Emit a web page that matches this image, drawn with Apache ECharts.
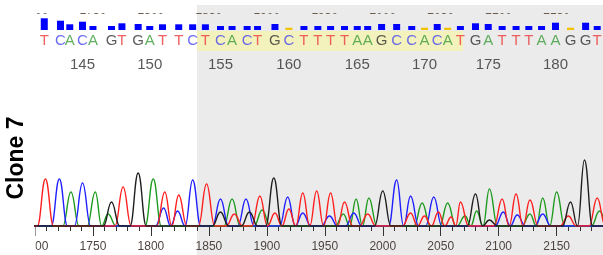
<!DOCTYPE html>
<html><head><meta charset="utf-8">
<script src="https://cdn.jsdelivr.net/npm/echarts@6/dist/echarts.min.js"></script>
<style>html,body{margin:0;padding:0;background:#fff;}#c{width:603px;height:255px;}</style>
</head><body><div id="c"></div>
<script>
// ---- data ----
const firstBase = 142;
const baseLetters = ['T','C','A','C','A','G','T','G','A','T','T','C','T','C','A','C','T','G','C','T','T','T','T','A','A','G','C','C','A','C','A','T','G','A','T','T','T','A','A','G','G','T'];
const basePos = [1708,1722,1730,1741,1750,1766,1775,1789,1799,1810,1824,1836,1847,1860,1870,1883,1892,1907,1919,1932,1944,1955,1967,1978,1987,1999,2012,2025,2036,2047,2056,2067,2080,2091,2103,2115,2126,2137,2149,2162,2175,2185];
const baseQuality = [11.7,9.3,5.7,8.3,4,4,6.7,6,4,5.7,5.7,5.7,5.7,4,4,4,4,6,2.3,4,4,4,4,4,4,6,6,4,2.3,6,2.3,4,6.7,6,4,4,4,4,7.3,2.3,7.3,4];
const baseTicks = [145,150,155,160,165,170,175,180];
const traceTicks = [1700,1750,1800,1850,1900,1950,2000,2050,2100,2150];

// trace peaks: [trace position, signal height]
const redPeaks = [[1709,47],[1776,39],[1812,34],[1824,31],[1848,42],[1872,12],[1894,30],[1907,13],[1919,17],[1931,33],[1943,35],[1955,33],[1967,24],[1987,12],[2024,13],[2036,10],[2048,14],[2059,9],[2067,24],[2103,27],[2115,32],[2127,26],[2160,10],[2185,28]];
const bluePeaks = [[1721,47],[1741,43],[1811,18],[1823,15],[1836,46],[1860,27],[1882,27],[1918,29],[1931,13],[1954,10],[1975,13],[2012,46],[2024,30],[2044,29],[2104,14],[2116,11],[2138,12]];
const greenPeaks = [[1731,34],[1752,34],[1763,12],[1802,47],[1870,27],[1896,16],[1966,12],[1977,27],[1988,28],[2034,23],[2056,23],[2071,10],[2081,15],[2092,37],[2127,12],[2138,28],[2150,34],[2187,15]];
const blackPeaks = [[1766,24],[1789,53],[1860,14],[1885,14],[1906,48],[2000,35],[2080,32],[2092,6],[2162,24],[2174,66]];

const letterColor = {T:'#ee3a3a', C:'#4646ee', A:'#3a9c3a', G:'#333333'};
const traceColor = {red:'#ff1e1e', blue:'#1e1eff', green:'#1e9a1e', black:'#1e1e1e'};

function peaksToLine(peaks, hw){
  const pts = [[1690,0]];
  for (let i=0;i<peaks.length;i++){
    const p = peaks[i][0], h = peaks[i][1];
    let l = p - hw, r = p + hw;
    if (i>0 && p - peaks[i-1][0] < 2*hw) l = (p + peaks[i-1][0])/2;
    if (i<peaks.length-1 && peaks[i+1][0] - p < 2*hw) r = (p + peaks[i+1][0])/2;
    if (pts[pts.length-1][0] < l) pts.push([l,0]);
    pts.push([p,h]);
    pts.push([r,0]);
  }
  pts.push([2200,0]);
  return pts;
}
function traceSeries(name, peaks){
  return {type:'line', xAxisIndex:1, yAxisIndex:1, data:peaksToLine(peaks,7), smooth:0.45, smoothMonotone:'x',
    symbol:'none', lineStyle:{color:traceColor[name], width:1.4}, clip:true, z:3};
}
const plainLabel = v => String(v);

const chart = echarts.init(document.getElementById('c'), null, {renderer:'canvas'});
const FONT = 'Liberation Sans';
chart.setOption({
  animation:false,
  grid:[
    {left:35, right:0, top:0, height:75},
    {left:35, right:0, top:146, height:80}
  ],
  xAxis:[
    {gridIndex:0, type:'value', min:1700, max:2190, interval:50, position:'top',
     axisLine:{show:false}, axisTick:{show:false}, splitLine:{show:false},
     axisLabel:{margin:-17, color:'#6a5a4a', fontSize:12, fontFamily:FONT, formatter:plainLabel, showMaxLabel:false}},
    {gridIndex:1, type:'value', min:1700, max:2190, interval:50,
     axisLine:{lineStyle:{color:'#444', width:1}},
     axisTick:{length:10, lineStyle:{color:'#333'}},
     minorTick:{show:true, splitNumber:5, length:5, lineStyle:{color:'#333'}},
     splitLine:{show:false},
     axisLabel:{margin:15, fontSize:12, color:'#4e4440', fontFamily:FONT, formatter:plainLabel, showMaxLabel:false}}
  ],
  yAxis:[
    {gridIndex:0, type:'value', min:-45, max:30, show:false},
    {gridIndex:1, type:'value', min:0, max:80, show:false}
  ],
  series:[
    {type:'bar', xAxisIndex:0, yAxisIndex:0, barWidth:7,
     data: basePos.map((p,i)=>({value:[p, baseQuality[i]], itemStyle:{color: baseQuality[i] < 3 ? '#f2c200' : '#0000ff'}}))},
    {type:'scatter', xAxisIndex:0, yAxisIndex:0, symbolSize:0, silent:true,
     data: basePos.map((p,i)=>({value:[p,-11], label:{show:true, position:'inside', formatter:baseLetters[i], color:letterColor[baseLetters[i]], fontSize:15, fontFamily:FONT}}))},
    {type:'scatter', xAxisIndex:0, yAxisIndex:0, symbolSize:0, silent:true,
     data: baseTicks.map(n=>({value:[basePos[n-firstBase], -35], label:{show:true, position:'inside', formatter:String(n), color:'#2e2e2e', fontSize:15, fontFamily:FONT}}))},
    traceSeries('green', greenPeaks),
    traceSeries('blue', bluePeaks),
    traceSeries('red', redPeaks),
    traceSeries('black', blackPeaks)
  ],
  graphic:[
    {type:'rect', z:-100, shape:{x:197, y:5, width:406, height:250}, style:{fill:'#ebebeb'}},
    {type:'rect', z:-99, shape:{x:197, y:31, width:266, height:20}, style:{fill:'#f4f2bc'}},
    {type:'rect', z:100, shape:{x:0, y:0, width:603, height:5}, style:{fill:'#ffffff'}},
    {type:'rect', z:100, shape:{x:0, y:5, width:197, height:8}, style:{fill:'#ffffff'}},
    {type:'rect', z:100, shape:{x:197, y:5, width:406, height:8}, style:{fill:'#ebebeb'}},
    {type:'rect', z:100, shape:{x:0, y:0, width:35.5, height:20}, style:{fill:'#ffffff'}},
    {type:'rect', z:100, shape:{x:0, y:227, width:35.5, height:28}, style:{fill:'#ffffff'}},
    {type:'text', z:101, x:17, y:158, rotation:Math.PI/2,
     style:{text:'Clone 7', font:'bold 23px "Liberation Sans"', fill:'#000', align:'center', verticalAlign:'middle'}}
  ]
});
</script></body></html>
